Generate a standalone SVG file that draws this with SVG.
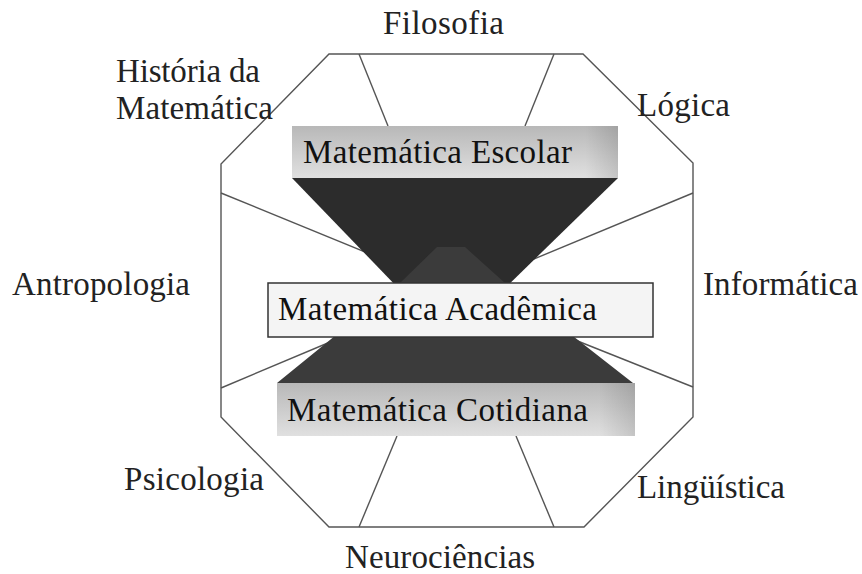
<svg xmlns="http://www.w3.org/2000/svg" width="862" height="574" viewBox="0 0 862 574">
<defs>
<style>
.lbl{font-family:"Liberation Serif","Times New Roman",serif;font-size:33px;fill:#222}
.box{font-family:"Liberation Serif","Times New Roman",serif;font-size:33px;fill:#111}
.edge{stroke:#555;stroke-width:1.4;fill:none}
</style>
<linearGradient id="gbox" x1="0" y1="0" x2="0" y2="1">
<stop offset="0" stop-color="#b8b8b8"/>
<stop offset="1" stop-color="#e0e0e0"/>
</linearGradient>
<linearGradient id="gside" x1="0" y1="0" x2="1" y2="0">
<stop offset="0.9" stop-color="#000" stop-opacity="0"/>
<stop offset="1" stop-color="#000" stop-opacity="0.12"/>
</linearGradient>
</defs>
<rect width="862" height="574" fill="#fff"/>
<g id="frame">
<polygon class="edge" points="329,54 583,54 693,163 693,417 584,527 329,527 221,417 221,164"/>
</g>
<g id="connectors">
<line class="edge" x1="359" y1="54" x2="388" y2="126"/>
<line class="edge" x1="554" y1="54" x2="525" y2="126"/>
<line class="edge" x1="221" y1="193" x2="392" y2="263"/>
<line class="edge" x1="693" y1="193" x2="505" y2="271"/>
<line class="edge" x1="221" y1="388" x2="335" y2="340"/>
<line class="edge" x1="693" y1="387" x2="570" y2="338"/>
<line class="edge" x1="397" y1="436" x2="359" y2="527"/>
<line class="edge" x1="516" y1="436" x2="554" y2="527"/>
</g>
<g id="hourglass">
<polygon points="292,178 618,178 503,290 400,290" fill="#2c2c2c"/>
<polygon points="277,383 633,383 505,283 465,247 437,247 400,283" fill="#3b3b3b"/>
</g>
<g id="escolar">
<rect x="292" y="126" width="326" height="52" fill="url(#gbox)"/>
<rect x="292" y="126" width="326" height="52" fill="url(#gside)"/>
<text class="box" x="303" y="163" textLength="269">Matemática Escolar</text>
</g>
<g id="academica">
<rect x="268" y="283" width="385" height="54" fill="#f4f4f4" stroke="#333" stroke-width="1.5"/>
<text class="box" x="278" y="320" textLength="319">Matemática Acadêmica</text>
</g>
<g id="cotidiana">
<rect x="277" y="383" width="358" height="53" fill="url(#gbox)"/>
<rect x="277" y="383" width="358" height="53" fill="url(#gside)"/>
<text class="box" x="287" y="421" textLength="301">Matemática Cotidiana</text>
</g>
<g id="filosofia"><text class="lbl" x="383" y="34" textLength="121">Filosofia</text></g>
<g id="historia"><text class="lbl" x="116" y="82" textLength="144">História da</text><text class="lbl" x="116" y="119" textLength="157">Matemática</text></g>
<g id="logica"><text class="lbl" x="637" y="116" textLength="93">Lógica</text></g>
<g id="antropologia"><text class="lbl" x="12" y="295" textLength="178">Antropologia</text></g>
<g id="informatica"><text class="lbl" x="703" y="295" textLength="155">Informática</text></g>
<g id="psicologia"><text class="lbl" x="124" y="490" textLength="140">Psicologia</text></g>
<g id="linguistica"><text class="lbl" x="637" y="498" textLength="148">Lingüística</text></g>
<g id="neurociencias"><text class="lbl" x="345" y="568" textLength="190">Neurociências</text></g>
</svg>
